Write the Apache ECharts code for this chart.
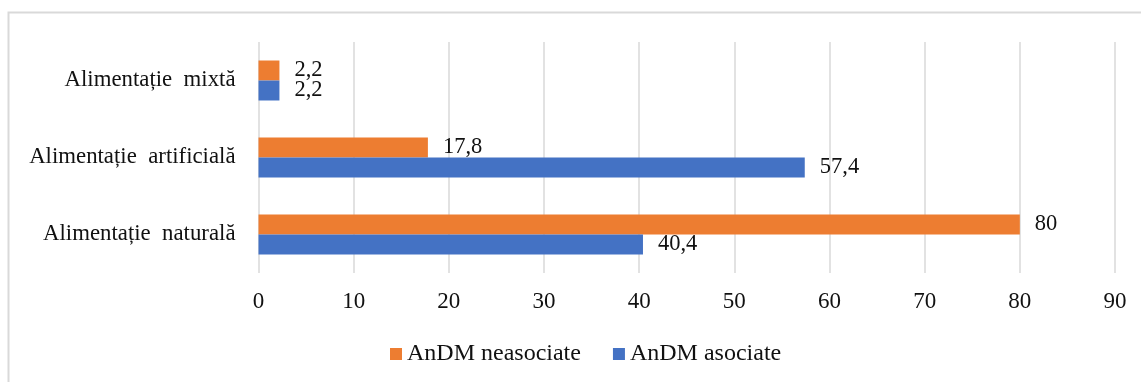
<!DOCTYPE html>
<html>
<head>
<meta charset="utf-8">
<script src="https://cdn.jsdelivr.net/npm/echarts@6/dist/echarts.min.js"></script>
<style>
  html, body { margin: 0; padding: 0; background: #fff; }
  #chart { width: 1141px; height: 382px; }
</style>
</head>
<body>
<div id="chart"></div>
<script>
// Feeding type categories, listed bottom to top along the category axis
const categories = ['Alimentație naturală', 'Alimentație artificială', 'Alimentație mixtă'];
const seriesNames = ['AnDM neasociate', 'AnDM asociate'];
const neasociate = [80, 17.8, 2.2];
const asociate = [40.4, 57.4, 2.2];
const valueTicks = [0, 10, 20, 30, 40, 50, 60, 70, 80, 90];

const FONT = '"Liberation Serif", "Times New Roman", serif';
const fmt = v => String(v).replace('.', ',');

const chart = echarts.init(document.getElementById('chart'), null, { renderer: 'canvas' });

chart.setOption({
  animation: false,
  backgroundColor: '#fff',
  textStyle: { fontFamily: FONT },
  graphic: [{
    type: 'rect',
    shape: { x: 8.5, y: 12.5, width: 1200, height: 400 },
    style: { fill: 'none', stroke: '#d9d9d9', lineWidth: 2 },
    silent: true
  }],
  grid: { left: 258.5, right: 26, top: 42, bottom: 109, containLabel: false },
  legend: {
    data: seriesNames,
    left: 390,
    top: 342,
    padding: 0,
    itemWidth: 12,
    itemHeight: 12,
    itemGap: 32,
    icon: 'rect',
    textStyle: { fontFamily: FONT, fontSize: 24, color: '#111' }
  },
  xAxis: {
    type: 'value',
    min: valueTicks[0],
    max: valueTicks[valueTicks.length - 1],
    interval: valueTicks[1] - valueTicks[0],
    axisLine: { show: false },
    axisTick: { show: false },
    splitLine: { show: true, lineStyle: { color: '#d9d9d9', width: 1.5 } },
    axisLabel: { fontFamily: FONT, fontSize: 23, color: '#111', margin: 17 }
  },
  yAxis: {
    type: 'category',
    data: categories,
    axisLine: { show: false },
    axisTick: { show: false },
    axisLabel: {
      fontFamily: FONT, fontSize: 22.8, color: '#111', margin: 23,
      // justified-looking wide gap between the two words
      formatter: s => s.replace(' ', '\u2002')
    }
  },
  series: [
    {
      name: seriesNames[0],
      type: 'bar',
      data: neasociate,
      barWidth: 20,
      barGap: '0%',
      itemStyle: { color: '#ED7D31' },
      label: {
        show: true, position: 'right', distance: 15,
        fontFamily: FONT, fontSize: 22.5, color: '#111',
        formatter: p => fmt(p.value)
      }
    },
    {
      name: seriesNames[1],
      type: 'bar',
      data: asociate,
      barWidth: 20,
      barGap: '0%',
      itemStyle: { color: '#4472C4' },
      label: {
        show: true, position: 'right', distance: 15,
        fontFamily: FONT, fontSize: 22.5, color: '#111',
        formatter: p => fmt(p.value)
      }
    }
  ]
});
</script>
</body>
</html>
